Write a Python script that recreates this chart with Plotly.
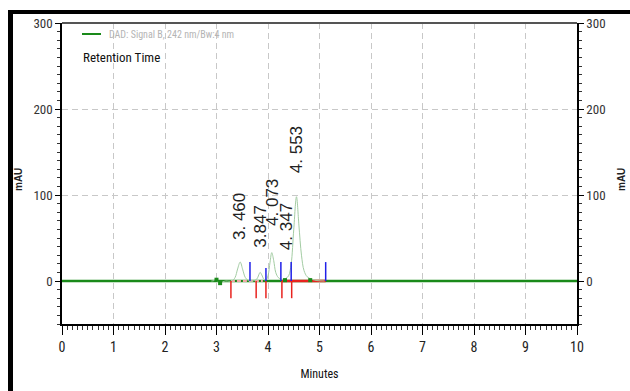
import plotly.graph_objects as go

# Chromatogram signal (minutes, mAU)
sig_t = [2.90, 2.95, 2.98, 3.00, 3.03, 3.08, 3.12, 3.18, 3.30, 3.36, 3.41, 3.46, 3.51, 3.56, 3.62,
         3.70, 3.78, 3.82, 3.847, 3.88, 3.92, 3.96, 4.00, 4.04, 4.073, 4.11, 4.15, 4.20, 4.26,
         4.30, 4.347, 4.40, 4.45, 4.50, 4.553, 4.60, 4.65, 4.70, 4.76, 4.85, 4.95, 5.10]
sig_v = [0, 0.5, 2, 1, -1, -2, -1, 0, 0, 4, 14, 22, 13, 4, 0.5,
         0, 2, 7, 10, 7, 2, 1, 6, 22, 33, 24, 10, 4, 2,
         2, 3, 6, 20, 60, 98, 65, 30, 12, 5, 2, 0.5, 0]

# Flat detector baseline
base_t = [0, 10]
base_v = [0, 0]

# Noise blips on the baseline
blip_t = [3.00, 3.07, 4.33, 4.82]
blip_v = [1.5, -2.5, 1.0, 1.0]

# Integrated peaks
peak_rt = [3.460, 3.847, 4.073, 4.347, 4.553]
peak_h = [22, 10, 33, 3, 98]
peak_lbl = ["3. 460", "3.847", "4. 073", "4. 347", "4. 553"]
lbl_gap = [23, 26, 29, 31, 25]

# Integration events: peak start (red) / peak end (blue)
start_t = [3.28, 3.77, 3.96, 4.27, 4.46]
end_t = [3.65, 3.96, 4.25, 4.45, 5.12]
end_h = [22, 15, 22, 22, 22]
start_depth = -20

# Drawn integration baselines
pink_t = [3.28, 3.90]
red_t = [4.27, 5.12]

FONT = ("Liberation Sans Narrow, Arial Narrow, Roboto Condensed, Noto Sans Condensed, "
        "DejaVu Sans Condensed, Liberation Sans, Arial")
FONT_R = "Liberation Sans, Arial"

fig = go.Figure()

fig.add_trace(go.Scatter(x=base_t, y=base_v, mode="lines",
                         line=dict(color="#1a8a1a", width=2.5), hoverinfo="skip"))
fig.add_trace(go.Scatter(x=pink_t, y=[0, 0], mode="lines",
                         line=dict(color="#f2a8a8", width=2, dash="4px,2px"), hoverinfo="skip"))
fig.add_trace(go.Scatter(x=red_t, y=[0, 0], mode="lines",
                         line=dict(color="#e8231f", width=2.5), hoverinfo="skip"))
fig.add_trace(go.Scatter(x=sig_t, y=sig_v, mode="lines", line_shape="spline",
                         line=dict(color="#a3cca3", width=1), hoverinfo="skip"))
fig.add_trace(go.Scatter(x=blip_t, y=blip_v, mode="markers",
                         marker=dict(symbol="square", size=4, color="#1a8a1a"), hoverinfo="skip"))

# event tick marks
ex, ey = [], []
for t, h in zip(end_t, end_h):
    ex += [t, t, None]
    ey += [0, h, None]
fig.add_trace(go.Scatter(x=ex, y=ey, mode="lines", line=dict(color="#2020e8", width=1.5),
                         hoverinfo="skip"))
sx, sy = [], []
for t in start_t:
    sx += [t, t, None]
    sy += [0, start_depth, None]
fig.add_trace(go.Scatter(x=sx, y=sy, mode="lines", line=dict(color="#e8231f", width=1.5),
                         hoverinfo="skip"))

# hidden trace for the right-hand axis
fig.add_trace(go.Scatter(x=[0], y=[0], yaxis="y2", mode="markers",
                         marker=dict(opacity=0), hoverinfo="skip"))

for rt, h, txt, g in zip(peak_rt, peak_h, peak_lbl, lbl_gap):
    fig.add_annotation(x=rt, y=h + g, text=txt, textangle=-90, showarrow=False,
                       xanchor="center", yanchor="bottom",
                       font=dict(family=FONT_R, size=17, color="#222"))

yax = dict(range=[-50, 300], tickvals=[0, 100, 200, 300], ticks="outside", ticklen=5,
           tickwidth=1.2, tickcolor="black", showline=True, linecolor="black", linewidth=1.5,
           minor=dict(dtick=10, ticks="outside", ticklen=3, tickcolor="#333", showgrid=False),
           tickfont=dict(family=FONT, size=13, color="#333"), zeroline=False, fixedrange=True)

fig.update_layout(
    width=630, height=391,
    margin=dict(l=62, r=53, t=23, b=67),
    paper_bgcolor="white", plot_bgcolor="white",
    showlegend=False,
    xaxis=dict(range=[0, 10], dtick=1, ticks="outside", ticklen=9, tickwidth=1.2,
               tickcolor="black", showline=True, linecolor="black", linewidth=2,
               showgrid=True, gridcolor="#c8c8c8", griddash="6px,4px", gridwidth=1,
               minor=dict(dtick=0.1, ticks="outside", ticklen=4, tickcolor="#333", showgrid=False),
               tickfont=dict(family=FONT, size=14, color="#222"), zeroline=False,
               title=dict(text="Minutes", font=dict(family=FONT, size=12, color="#111"), standoff=16)),
    yaxis=dict(**yax, showgrid=True, gridcolor="#c8c8c8", griddash="6px,4px", gridwidth=1),
    yaxis2=dict(**yax, overlaying="y", side="right", showgrid=False),
)

# axis titles
for px in (18, 621):
    fig.add_annotation(xref="paper", yref="paper", x=(px - 62) / 515, y=(324 - 180) / 301,
                       text="<b>mAU</b>", textangle=-90, showarrow=False,
                       xanchor="center", yanchor="middle",
                       font=dict(family=FONT_R, size=10, color="#222"))

# legend and caption
fig.add_shape(type="line", xref="paper", yref="paper",
              x0=(82 - 62) / 515, x1=(101 - 62) / 515, y0=(324 - 34) / 301, y1=(324 - 34) / 301,
              line=dict(color="#1a8a1a", width=2))
fig.add_annotation(xref="paper", yref="paper", x=(107 - 62) / 515, y=(324 - 34) / 301,
                   text="DAD: Signal B, 242 nm/Bw:4 nm", showarrow=False,
                   xanchor="left", yanchor="middle",
                   font=dict(family=FONT, size=10, color="#b4b4b4"))
fig.add_annotation(xref="paper", yref="paper", x=(81 - 62) / 515, y=(324 - 58) / 301,
                   text="Retention Time", showarrow=False, xanchor="left", yanchor="middle",
                   font=dict(family=FONT, size=13, color="#111"))

# top plot border
fig.add_shape(type="line", xref="paper", yref="paper", x0=0, x1=1, y0=1, y1=1,
              line=dict(color="#555", width=2))
# outer frame (top and left edges)
fig.add_shape(type="line", xref="paper", yref="paper",
              x0=(8 - 62) / 515, x1=(632 - 62) / 515, y0=(324 - 12) / 301, y1=(324 - 12) / 301,
              line=dict(color="black", width=4))
fig.add_shape(type="line", xref="paper", yref="paper",
              x0=(10.5 - 62) / 515, x1=(10.5 - 62) / 515, y0=(324 - 10) / 301, y1=(324 - 395) / 301,
              line=dict(color="black", width=5))

fig.write_html("out.html")
